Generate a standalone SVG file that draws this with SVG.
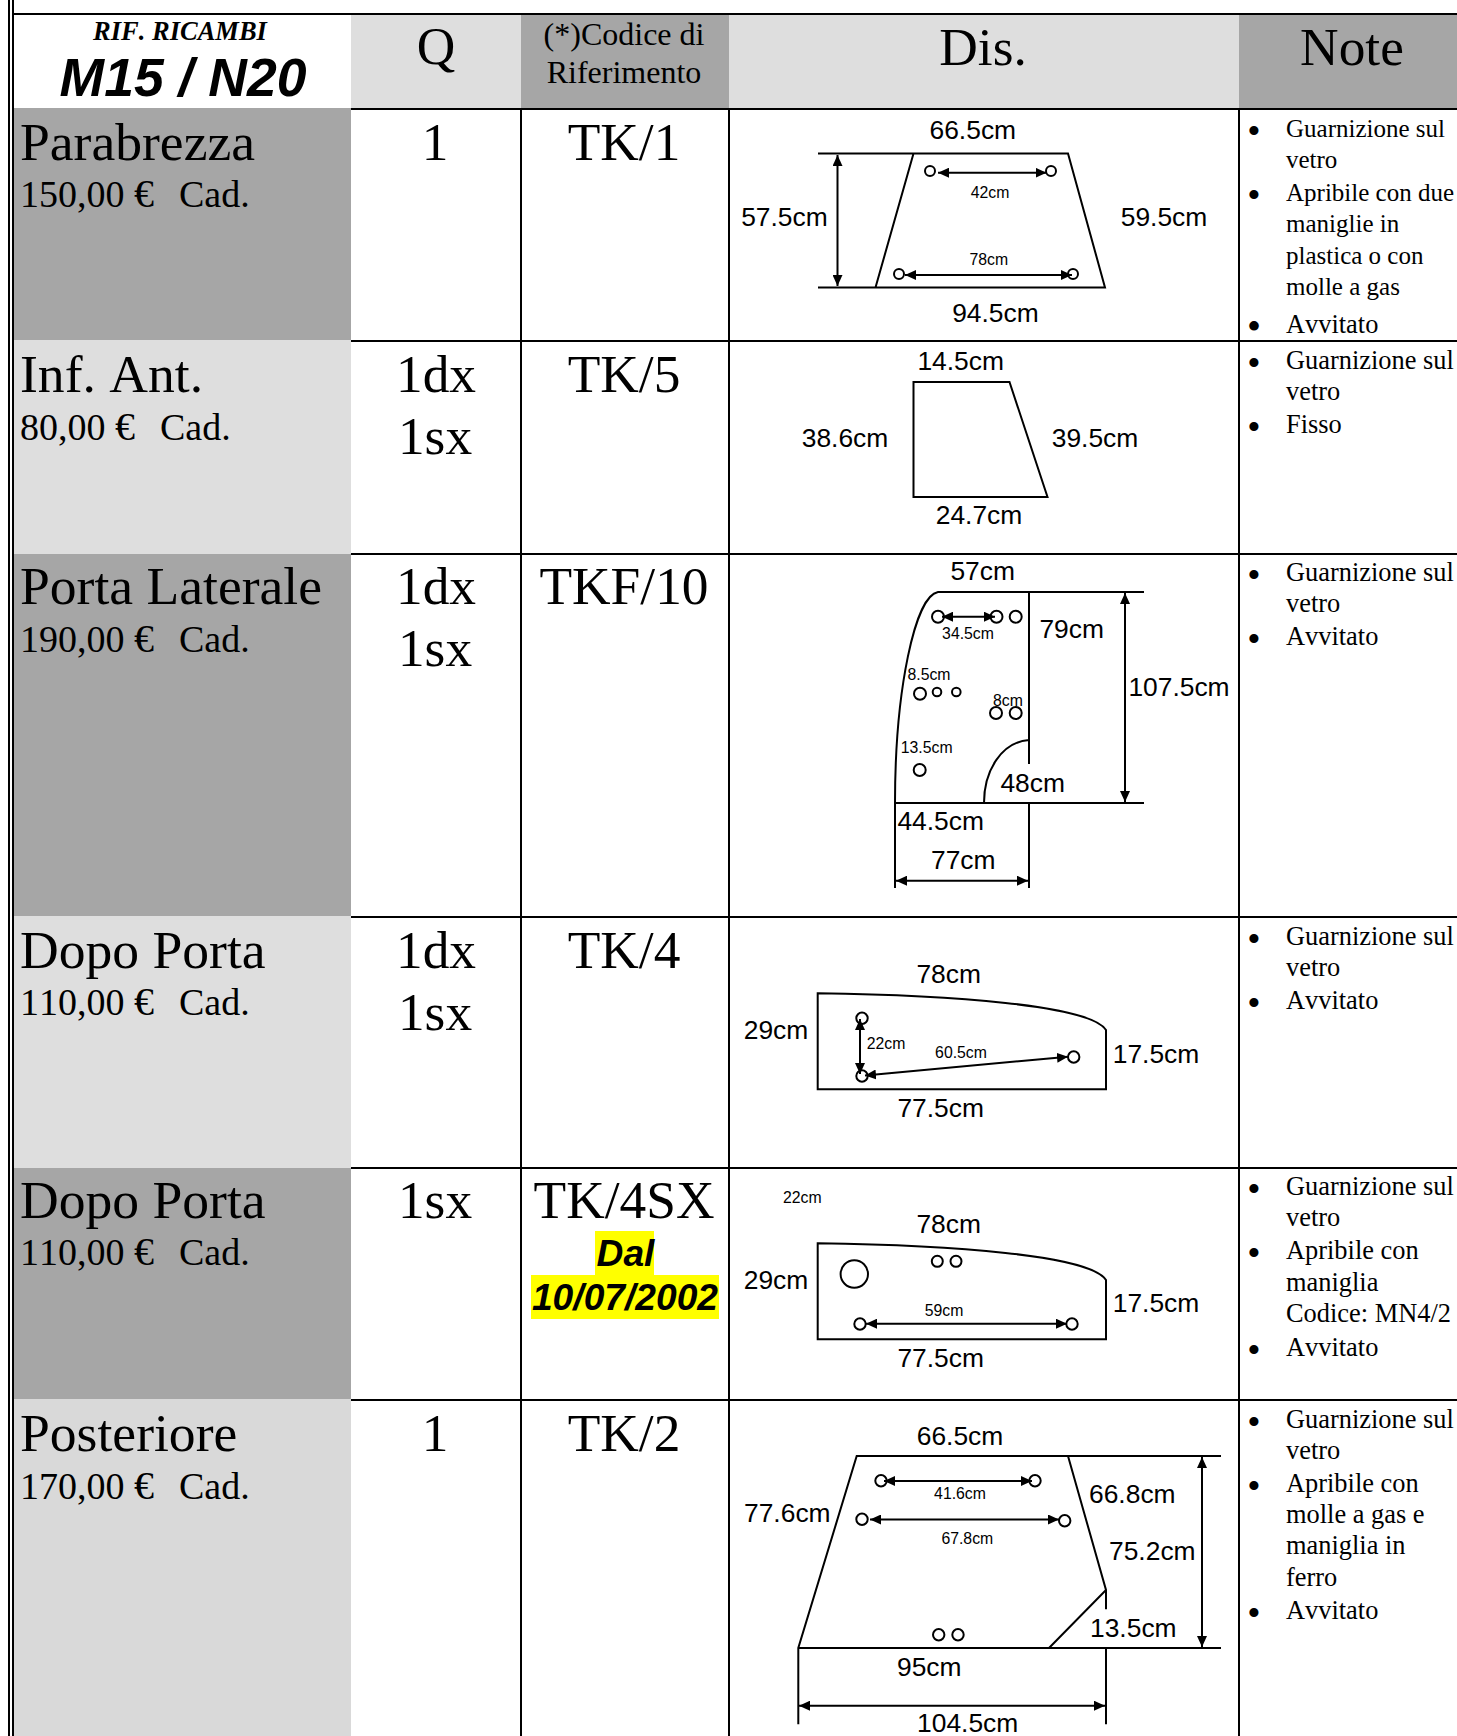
<svg xmlns="http://www.w3.org/2000/svg" width="1457" height="1736" viewBox="0 0 1457 1736">
<style>
text{fill:#000;font-family:"Liberation Serif","Times New Roman",serif;font-kerning:none}
.l{font-size:53.6px}.p{font-size:38px}.q{font-size:53.4px;text-anchor:middle}
.e{font-size:40px}
.n{font-size:26.4px}#row-parabrezza .n{font-size:25px}#row-parabrezza .n.w{font-size:26.4px}
.b{font-size:38px;text-anchor:middle;transform:translateY(7px)}
.d,.s{font-family:"Liberation Sans",Arial,sans-serif;text-anchor:middle}
.d{font-size:26.4px}.s{font-size:15.8px}
.h{fill:none;stroke:#000;stroke-width:2}
.g{fill:none;stroke:#000;stroke-width:2}
.a{fill:none;stroke:#000;stroke-width:2;marker-start:url(#ar);marker-end:url(#ar)}
.dk{fill:#a6a6a6}.lt{fill:#dedede}
.y{font-family:"Liberation Sans",Arial,sans-serif;font-weight:bold;font-style:italic;font-size:37.2px;text-anchor:middle}
</style>
<defs><marker id="ar" markerUnits="userSpaceOnUse" markerWidth="11" markerHeight="10" refX="11" refY="5" orient="auto-start-reverse" viewBox="0 0 11 10"><path d="M0,0 L11,5 L0,10 Z" fill="#000"/></marker></defs>
<rect width="1457" height="1736" fill="#fff"/>
<g id="fills">
<rect x="351" y="14" width="170" height="94" class="lt"/><rect x="521" y="14" width="208" height="94" class="dk"/><rect x="729" y="14" width="510" height="94" class="lt"/><rect x="1239" y="14" width="218" height="94" class="dk"/>
<rect x="14" y="108" width="337" height="232" class="dk"/><rect x="14" y="340" width="337" height="214" class="lt"/><rect x="14" y="554" width="337" height="362" class="dk"/><rect x="14" y="916" width="337" height="252" class="lt"/><rect x="14" y="1168" width="337" height="231" class="dk"/><rect x="14" y="1399" width="337" height="337" fill="#d9d9d9"/>
</g>
<g id="grid" stroke="#000" stroke-width="2" fill="none">
<path d="M9,0V1736M13,0V1736"/>
<path d="M14,14H1457M351,109H1457M351,341H1457M351,554H1457M351,917H1457M351,1168H1457M351,1400H1457"/>
<path d="M521,108V1736M729,108V1736M1239,108V1736"/>
</g>
<g id="header">
<text x="180" y="40" text-anchor="middle" font-size="26.5" font-weight="bold" font-style="italic">RIF. RICAMBI</text>
<text x="183" y="96" style="font-family:'Liberation Sans',Arial,sans-serif;font-size:53.5px;font-weight:bold;font-style:italic" text-anchor="middle">M15 / N20</text>
<text x="436" y="64" class="q">Q</text>
<text x="624" y="45" text-anchor="middle" font-size="32">(*)Codice di</text>
<text x="624" y="83" text-anchor="middle" font-size="32">Riferimento</text>
<text x="983" y="65" class="q">Dis.</text>
<text x="1352" y="65" class="q">Note</text>
</g>
<g id="row-parabrezza">
<text x="20" y="160" class="l">Parabrezza</text><text x="20" y="207" class="p">150,00 <tspan class="e">€</tspan><tspan dx="6">&#160; Cad.</tspan></text>
<text x="435" y="160" class="q">1</text><text x="624" y="160" class="q">TK/1</text>
<path class="g" d="M818,153.5H1068L1105,287.5H818M913.5,153.5L875.5,287.5"/>
<circle class="h" cx="930" cy="171" r="5"/><circle class="h" cx="1051" cy="171" r="5"/><circle class="h" cx="899" cy="274" r="5"/><circle class="h" cx="1073" cy="274" r="5"/>
<text x="972.8" y="138.7" class="d">66.5cm</text><text x="784.4" y="226.2" class="d">57.5cm</text><text x="1164" y="226.2" class="d">59.5cm</text><text x="995.4" y="321.7" class="d">94.5cm</text>
<text x="990" y="198" class="s">42cm</text><text x="988.8" y="265" class="s">78cm</text>
<text x="1254" y="137" class="b">•</text><text x="1286" y="137" class="n">Guarnizione sul</text><text x="1286" y="168" class="n">vetro</text>
<text x="1254" y="201" class="b">•</text><text x="1286" y="201" class="n">Apribile con due</text><text x="1286" y="231.5" class="n">maniglie in</text><text x="1286" y="263.5" class="n">plastica o con</text><text x="1286" y="295" class="n">molle a gas</text>
<text x="1254" y="332.5" class="b" style="font-size:40px">•</text><text x="1286" y="332.5" class="n w">Avvitato</text>
</g>
<g id="row-inf-ant">
<text x="20" y="391.5" class="l">Inf. Ant.</text><text x="20" y="439.5" class="p">80,00 <tspan class="e">€</tspan><tspan dx="6">&#160; Cad.</tspan></text>
<text x="436" y="391.5" class="q">1dx</text><text x="435" y="453.5" class="q">1sx</text><text x="624" y="391.5" class="q">TK/5</text>
<path class="g" d="M913.5,382H1009.5L1047.5,497H913.5Z"/>
<text x="960.7" y="369.6" class="d">14.5cm</text><text x="845" y="446.7" class="d">38.6cm</text><text x="1095" y="446.7" class="d">39.5cm</text><text x="979" y="524" class="d">24.7cm</text>
<text x="1254" y="368.5" class="b">•</text><text x="1286" y="368.5" class="n">Guarnizione sul</text><text x="1286" y="399.5" class="n">vetro</text>
<text x="1254" y="432.7" class="b">•</text><text x="1286" y="432.7" class="n">Fisso</text>
</g>
<g id="row-porta-laterale">
<text x="20" y="604" class="l">Porta Laterale</text><text x="20" y="652" class="p">190,00 <tspan class="e">€</tspan><tspan dx="6">&#160; Cad.</tspan></text>
<text x="436" y="604" class="q">1dx</text><text x="435" y="666" class="q">1sx</text><text x="624" y="604" class="q">TKF/10</text>
<path class="g" d="M1144,592H938C915,596 895,690 895,803V888M895,803H1144M1029,592V764M1029,803V888M1029,740C1002,742 984,770 984,803"/>
<circle class="h" cx="938" cy="616.7" r="6"/><circle class="h" cx="996.5" cy="616.7" r="6"/><circle class="h" cx="1015.7" cy="616.7" r="6"/>
<circle class="h" cx="920" cy="693.7" r="6"/><circle class="h" cx="937" cy="692" r="4.3"/><circle class="h" cx="956.3" cy="692" r="4.3"/>
<circle class="h" cx="996" cy="713" r="6"/><circle class="h" cx="1015.7" cy="713" r="6"/><circle class="h" cx="919.7" cy="770" r="6"/>
<text x="982.7" y="580" class="d">57cm</text><text x="968" y="639" class="s">34.5cm</text><text x="1071.7" y="638" class="d">79cm</text><text x="1179" y="696" class="d">107.5cm</text>
<text x="929" y="680" class="s">8.5cm</text><text x="1008" y="706" class="s">8cm</text><text x="926.7" y="753" class="s">13.5cm</text>
<text x="1032.7" y="792" class="d">48cm</text><text x="940.7" y="829.5" class="d">44.5cm</text><text x="963.3" y="869" class="d">77cm</text>
<text x="1254" y="581" class="b">•</text><text x="1286" y="581" class="n">Guarnizione sul</text><text x="1286" y="612" class="n">vetro</text>
<text x="1254" y="645" class="b">•</text><text x="1286" y="645" class="n">Avvitato</text>
</g>
<g id="row-dopo-porta-1">
<text x="20" y="968" class="l">Dopo Porta</text><text x="20" y="1015" class="p">110,00 <tspan class="e">€</tspan><tspan dx="6">&#160; Cad.</tspan></text>
<text x="436" y="968" class="q">1dx</text><text x="435" y="1030" class="q">1sx</text><text x="624" y="968" class="q">TK/4</text>
<path class="g" d="M817.7,993.3C950,995 1090,1005 1106,1030V1089.3H817.7Z"/>
<circle class="h" cx="862" cy="1018.3" r="5.7"/><circle class="h" cx="862" cy="1076" r="5.7"/><circle class="h" cx="1073.7" cy="1057" r="5.7"/>
<text x="948.7" y="982.7" class="d">78cm</text><text x="776" y="1039.3" class="d">29cm</text><text x="886" y="1049.3" class="s">22cm</text><text x="961" y="1057.7" class="s">60.5cm</text><text x="1156" y="1062.7" class="d">17.5cm</text><text x="940.7" y="1116.7" class="d">77.5cm</text>
<text x="1254" y="945" class="b">•</text><text x="1286" y="945" class="n">Guarnizione sul</text><text x="1286" y="976" class="n">vetro</text>
<text x="1254" y="1009" class="b">•</text><text x="1286" y="1009" class="n">Avvitato</text>
</g>
<g id="row-dopo-porta-2">
<text x="20" y="1218" class="l">Dopo Porta</text><text x="20" y="1265" class="p">110,00 <tspan class="e">€</tspan><tspan dx="6">&#160; Cad.</tspan></text>
<text x="435" y="1218" class="q">1sx</text><text x="624" y="1218" class="q">TK/4SX</text>
<rect x="595" y="1231" width="59" height="44" fill="#ff0"/><rect x="531" y="1275" width="188" height="44" fill="#ff0"/>
<text x="625.5" y="1266" class="y">Dal</text><text x="625" y="1310" class="y">10/07/2002</text>
<path class="g" d="M817.7,1243.3C950,1245 1090,1255 1106,1280V1339.3H817.7Z"/>
<circle class="h" cx="854.3" cy="1274" r="13.7"/><circle class="h" cx="937.3" cy="1261.3" r="5.5"/><circle class="h" cx="956" cy="1261.3" r="5.5"/><circle class="h" cx="860" cy="1324" r="5.7"/><circle class="h" cx="1072" cy="1324" r="5.7"/>
<text x="802.3" y="1202.7" class="s">22cm</text><text x="948.7" y="1233" class="d">78cm</text><text x="776" y="1289.3" class="d">29cm</text><text x="944" y="1315.7" class="s">59cm</text><text x="1156" y="1312.3" class="d">17.5cm</text><text x="940.7" y="1366.7" class="d">77.5cm</text>
<text x="1254" y="1195" class="b">•</text><text x="1286" y="1195" class="n">Guarnizione sul</text><text x="1286" y="1226" class="n">vetro</text>
<text x="1254" y="1258.5" class="b">•</text><text x="1286" y="1258.5" class="n">Apribile con</text><text x="1286" y="1290.6" class="n">maniglia</text><text x="1286" y="1321.7" class="n">Codice: MN4/2</text>
<text x="1254" y="1355.5" class="b">•</text><text x="1286" y="1355.5" class="n">Avvitato</text>
</g>
<g id="row-posteriore">
<text x="20" y="1451" class="l">Posteriore</text><text x="20" y="1499" class="p">170,00 <tspan class="e">€</tspan><tspan dx="6">&#160; Cad.</tspan></text>
<text x="435" y="1451" class="q">1</text><text x="624" y="1451" class="q">TK/2</text>
<path class="g" d="M1221,1456H856.7L798.3,1648V1724.3M798.3,1648H1221M1068,1456L1106,1590V1609.3M1106,1590L1049,1648M1106,1648V1724.3"/>
<circle class="h" cx="881" cy="1480.7" r="5.7"/><circle class="h" cx="1035" cy="1480.7" r="5.7"/><circle class="h" cx="862" cy="1519.3" r="5.7"/><circle class="h" cx="1064.7" cy="1520.7" r="5.7"/><circle class="h" cx="938.7" cy="1634.7" r="5.7"/><circle class="h" cx="958" cy="1634.7" r="5.7"/>
<text x="960" y="1445.3" class="d">66.5cm</text><text x="960" y="1498.7" class="s">41.6cm</text><text x="787.3" y="1521.7" class="d">77.6cm</text><text x="1132.3" y="1502.7" class="d">66.8cm</text><text x="967.3" y="1543.7" class="s">67.8cm</text><text x="1152.3" y="1559.7" class="d">75.2cm</text><text x="1133.3" y="1636.7" class="d">13.5cm</text><text x="929.3" y="1675.7" class="d">95cm</text><text x="967.7" y="1732.3" class="d">104.5cm</text>
<text x="1254" y="1427.5" class="b">•</text><text x="1286" y="1427.5" class="n">Guarnizione sul</text><text x="1286" y="1458.5" class="n">vetro</text>
<text x="1254" y="1491.5" class="b">•</text><text x="1286" y="1491.5" class="n">Apribile con</text><text x="1286" y="1522.5" class="n">molle a gas e</text><text x="1286" y="1553.5" class="n">maniglia in</text><text x="1286" y="1585.5" class="n">ferro</text>
<text x="1254" y="1619" class="b">•</text><text x="1286" y="1619" class="n">Avvitato</text>
</g>
<g id="connectors">
<path class="a" d="M837.5,155V286"/><path class="a" d="M938,172.7H1046.5"/><path class="a" d="M905,275H1072"/>
<path class="a" d="M942,616.7H995"/><path class="a" d="M1125,593V802"/><path class="a" d="M896,880.7H1028"/>
<path class="a" d="M860,1019V1074"/><path class="a" d="M865,1075.5L1068,1056.7"/>
<path class="a" d="M866,1323.7H1067"/>
<path class="a" d="M884,1481H1032"/><path class="a" d="M870,1519.5H1059"/><path class="a" d="M1202,1457V1647"/><path class="a" d="M799,1705.7H1105"/>
</g>
</svg>
